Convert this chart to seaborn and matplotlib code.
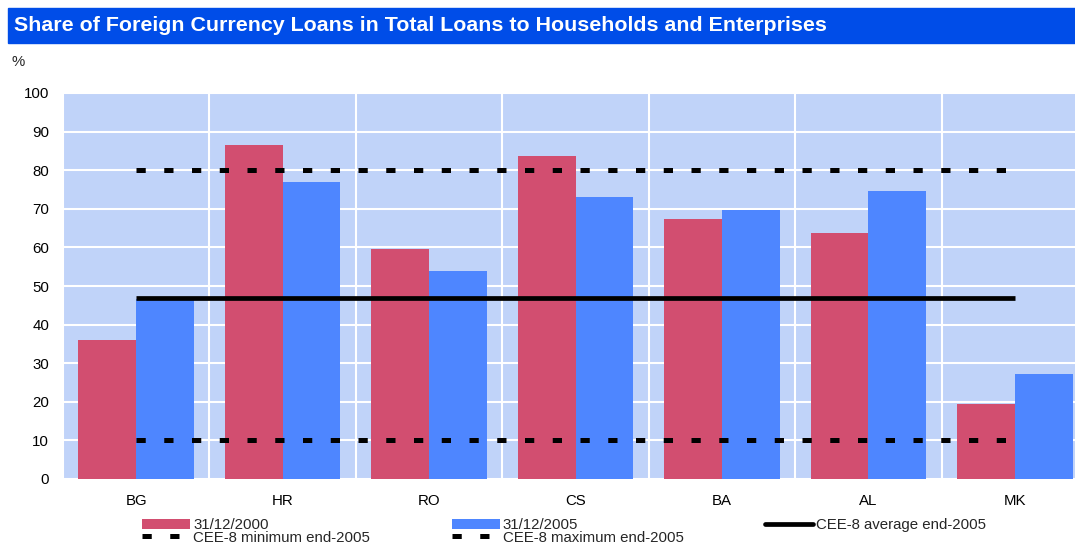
import numpy as np
import pandas as pd
import matplotlib as mpl
mpl.use("Agg")
import matplotlib.pyplot as plt
from matplotlib.patches import Rectangle, Patch
from matplotlib.lines import Line2D
import seaborn as sns

sns.set_theme(style="white")
plt.rcParams['font.family'] = ['Liberation Sans', 'DejaVu Sans']

# data
countries = ["BG", "HR", "RO", "CS", "BA", "AL", "MK"]
share_2000 = [36.0, 86.5, 59.6, 83.7, 67.4, 63.7, 19.4]
share_2005 = [46.6, 77.0, 54.0, 73.0, 69.7, 74.6, 27.2]
dates = ["31/12/2000", "31/12/2005"]
cee8_avg = 47.0
cee8_min = 10.0
cee8_max = 80.0

red = "#D24E70"
blue = "#4E86FF"
bg = "#C0D3F9"
titlebar = "#004DE8"
fs = 10.8

df = pd.DataFrame({
    "country": countries * 2,
    "share": share_2000 + share_2005,
    "date": [dates[0]] * len(countries) + [dates[1]] * len(countries),
})

W, H = 1075, 544
fig = plt.figure(figsize=(W / 100, H / 100), dpi=100)
ax = fig.add_axes([63 / W, 65 / H, 1025 / W, 386 / H])
ax.set_facecolor(bg)

sns.barplot(data=df, x="country", y="share", hue="date", palette=[red, blue],
            width=0.79, gap=0, saturation=1, linewidth=0, legend=False,
            ax=ax, zorder=2)

xs = np.arange(len(countries))
ax.plot(xs, [cee8_avg] * len(xs), color="black", lw=3.4, zorder=3, solid_capstyle="butt")
dots = (0, (1.85, 3.7))
ax.plot(xs, [cee8_min] * len(xs), color="black", lw=3.6, ls=dots, zorder=3)
ax.plot(xs, [cee8_max] * len(xs), color="black", lw=3.6, ls=dots, zorder=3)

ax.set_xlim(-0.5, len(countries) - 0.5)
ax.set_ylim(0, 100)
ax.set_yticks(range(0, 101, 10))
ax.set_xticks(np.arange(len(countries) + 1) - 0.5, minor=True)
ax.grid(axis="y", which="major", color="white", lw=1.5, zorder=0)
ax.grid(axis="x", which="minor", color="white", lw=1.5, zorder=0)
ax.set_axisbelow(True)
for s in ax.spines.values():
    s.set_visible(False)
ax.tick_params(axis="both", which="both", length=0, labelsize=fs, colors="black")
ax.tick_params(axis="x", pad=11)
ax.tick_params(axis="y", pad=10)
ax.set_xlabel("")
ax.set_ylabel("")

# title bar
fig.patches.append(Rectangle((8 / W, 1 - 43 / H), 1 - 8 / W, 35 / H,
                             transform=fig.transFigure, color=titlebar, zorder=0))
fig.text(14 / W, 1 - 25.5 / H,
         "Share of Foreign Currency Loans in Total Loans to Households and Enterprises",
         color="white", fontsize=15.4, fontweight="bold", va="center", ha="left")
fig.text(12 / W, 1 - 62 / H, "%", fontsize=fs, va="center", ha="left")

handles = [
    Patch(facecolor=red, edgecolor="none"),
    Line2D([], [], color="black", lw=3.6, ls=dots),
    Patch(facecolor=blue, edgecolor="none"),
    Line2D([], [], color="black", lw=3.6, ls=dots),
    Line2D([], [], color="black", lw=3.4),
]
labels = ["31/12/2000", "CEE-8 minimum end-2005", "31/12/2005",
          "CEE-8 maximum end-2005", "CEE-8 average end-2005"]
fig.legend(handles, labels, ncol=3, loc="center left",
           bbox_to_anchor=(142 / W, 1 - 531.5 / H), frameon=False,
           fontsize=fs, handlelength=3.2, handleheight=0.65, handletextpad=0.2,
           columnspacing=5.45, labelspacing=-0.12, borderpad=0, borderaxespad=0)

fig.savefig("out.png", dpi=100)
